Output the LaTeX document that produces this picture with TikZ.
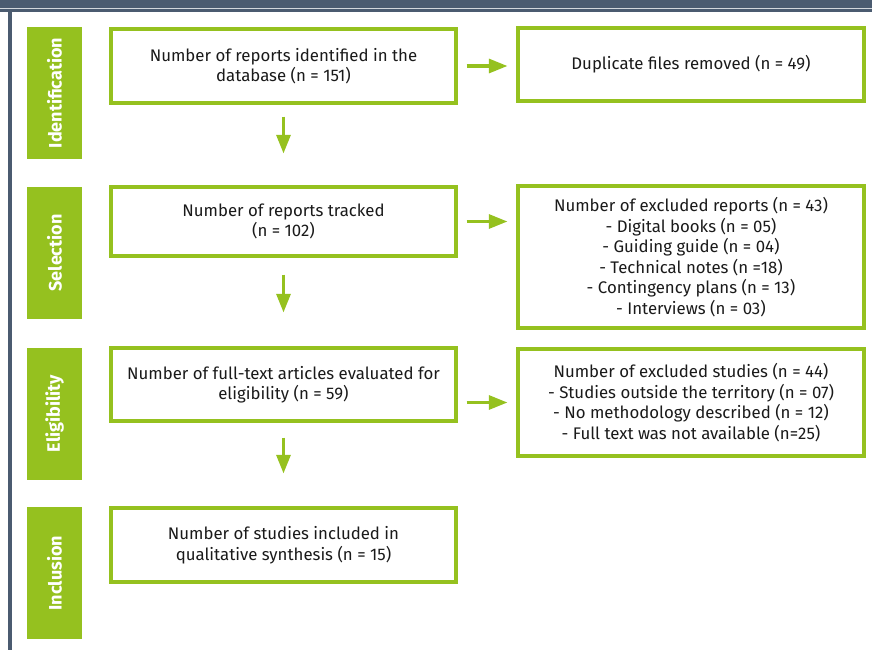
\documentclass[tikz,border=0pt]{standalone}
\usepackage{fontspec}
\setmainfont{Fira Sans}
\usetikzlibrary{arrows.meta}
\definecolor{pgreen}{HTML}{95C11F}
\definecolor{slate}{HTML}{4B5B70}
\definecolor{txt}{HTML}{1A1A1A}
\newdimen\px \px=0.75pt
\begin{document}
\begin{tikzpicture}[x=0.75pt,y=-0.75pt,
  box/.style={draw=pgreen,line width=2.3pt,fill=white,inner sep=0pt,align=center,
     text=txt,font=\fontsize{12.6}{15.4}\selectfont},
  stage/.style={fill=pgreen,inner sep=0pt,minimum width=55*\px,minimum height=132*\px},
  stagetxt/.style={text=white,font=\fontsize{13.5}{15}\selectfont\bfseries,rotate=90},
  arr/.style={draw=pgreen,line width=2.4pt,-{Triangle[width=10.5pt,length=14pt]}}]
\useasboundingbox (0,0) rectangle (872,650);
% frame
\fill[slate] (0,0) rectangle (872,12);
\draw[white!75!slate,line width=0.8pt] (0,8.3) -- (872,8.3);
\fill[slate] (8,12) rectangle (12,650);
% stages
\node[stage] (s1) at (54.5,93) {};
\node[stagetxt] (t1) at (s1) {Identification};
\node[stage] (s2) at (54.5,253) {};
\node[stagetxt] (t2) at (s2) {Selection};
\node[stage] (s3) at (54.5,413.5) {};
\node[stagetxt] (t3) at (s3) {Eligibility};
\node[stage] (s4) at (54.5,573) {};
\node[stagetxt] (t4) at (s4) {Inclusion};
% left boxes
\node[box,minimum width=345*\px,minimum height=74*\px] (L1) at (283.5,66)
  {Number of reports identified in the\\database (n = 151)};
\node[box,minimum width=345*\px,minimum height=69*\px] (L2) at (283.5,221.5)
  {Number of reports tracked\\(n = 102)};
\node[box,minimum width=345*\px,minimum height=73*\px] (L3) at (283.5,384.5)
  {Number of full-text articles evaluated for\\eligibility (n = 59)};
\node[box,minimum width=345*\px,minimum height=74*\px] (L4) at (283.5,545)
  {Number of studies included in\\qualitative synthesis (n = 15)};
% right boxes
\node[box,minimum width=346*\px,minimum height=73*\px] (R1) at (691,64.5)
  {Duplicate files removed (n = 49)};
\node[box,minimum width=346*\px,minimum height=142*\px] (R2) at (691,257)
  {Number of excluded reports (n = 43)\\- Digital books (n = 05)\\- Guiding guide (n = 04)\\- Technical notes (n =18)\\- Contingency plans (n = 13)\\- Interviews (n = 03)};
\node[box,minimum width=346*\px,minimum height=107*\px] (R3) at (691,402.5)
  {Number of excluded studies (n = 44)\\- Studies outside the territory (n = 07)\\- No methodology described (n = 12)\\- Full text was not available (n=25)};
% arrows
\draw[arr,shorten <=9*\px,shorten >=9*\px] (L1.east) -- (L1.east -| R1.west);
\draw[arr,shorten <=9*\px,shorten >=9*\px] (L2.east) -- (L2.east -| R2.west);
\draw[arr,shorten <=9*\px,shorten >=9*\px] (R3.west -| L3.east) -- (R3.west);
\draw[arr,shorten <=12*\px,shorten >=32*\px] (L1.south) -- (L2.north);
\draw[arr,shorten <=17*\px,shorten >=34*\px] (L2.south) -- (L3.north);
\draw[arr,shorten <=15*\px,shorten >=33*\px] (L3.south) -- (L4.north);
\end{tikzpicture}
\end{document}
